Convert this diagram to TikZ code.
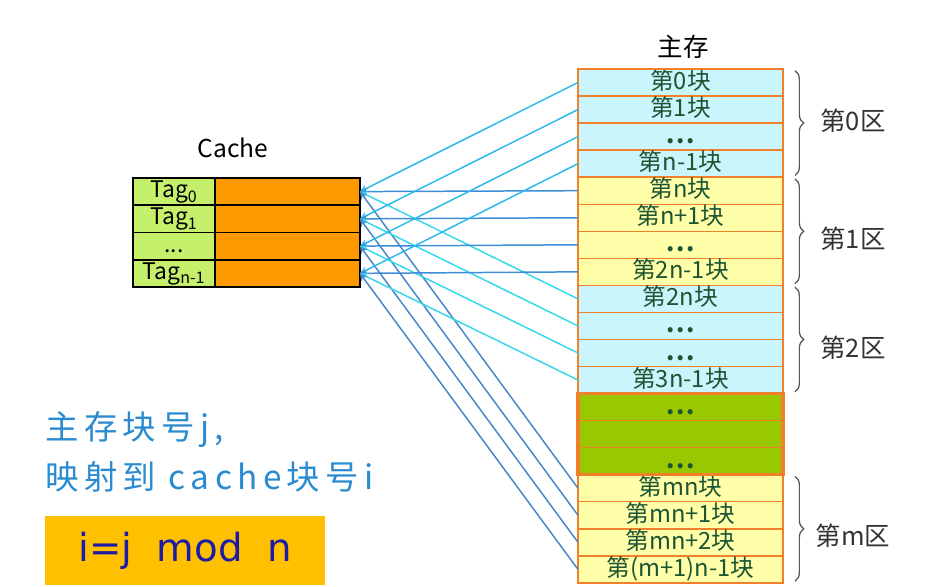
\documentclass[tikz,border=0pt]{standalone}
\usepackage{fontspec}
\setmainfont{Noto Sans CJK SC}
\newfontfamily\notefont[LetterSpace=16]{Noto Sans CJK SC}
\newfontfamily\rulefont{DejaVu Sans}
\usepackage{tikz}
\usetikzlibrary{decorations.pathreplacing}

\definecolor{cyanblk}{HTML}{CBF5FC}
\definecolor{yellowblk}{HTML}{FFFFAA}
\definecolor{greenblk}{HTML}{99C800}
\definecolor{memline}{HTML}{F0802A}
\definecolor{blktext}{HTML}{1D5533}
\definecolor{tagfill}{HTML}{C6F06C}
\definecolor{datafill}{HTML}{FF9900}
\definecolor{zoneA}{HTML}{2EB9EA}
\definecolor{zoneB}{HTML}{3D8ED6}
\definecolor{zoneC}{HTML}{36D8EF}
\definecolor{zoneM}{HTML}{4A87C6}
\definecolor{bracegray}{HTML}{555555}
\definecolor{labelgray}{HTML}{333333}
\definecolor{noteblue}{HTML}{2B8BD1}
\definecolor{rulebox}{HTML}{FFC000}
\definecolor{ruletext}{HTML}{1C1CA6}

\newcommand\blkdots{\textbf{.\kern1pt.\kern1pt.}}
\newcommand\tagdots{...}

\begin{document}
\begin{tikzpicture}[
        x=0.02cm, y=-0.02cm,          % 1 unit = 1 px of the slide
        >=stealth,
        blk/.style={
            draw=memline,
            line width=0.8pt,
            minimum width=4.1cm,
            minimum height=0.541cm,
            text height=9.5pt, text depth=1.5pt,
            inner sep=0pt, outer sep=0pt,
            text=blktext,
            font=\fontsize{13.5}{14}\selectfont
        },
        tagcell/.style={
            draw=black,
            line width=0.9pt,
            fill=tagfill,
            minimum width=1.64cm,
            minimum height=0.545cm,
            text height=9pt, text depth=2pt,
            inner sep=0pt, outer sep=0pt,
            font=\fontsize{13}{14}\selectfont
        },
        datacell/.style={tagcell, fill=datafill, minimum width=2.9cm},
        link/.style={<-, line width=0.85pt},
        zonebrace/.style={decorate, decoration={brace, amplitude=5pt},
            draw=bracegray, line width=0.7pt},
        zonelabel/.style={text=labelgray, font=\fontsize{14.5}{15}\selectfont},
        title/.style={font=\fontsize{14.5}{15}\selectfont},
        note/.style={anchor=west, text=noteblue, inner sep=0pt,
            font=\notefont\fontsize{19}{21}\selectfont}
    ]
        \useasboundingbox (0,0) rectangle (930,587);

        % 主存
        \node[title] (memtitle) at (683,47) {主存};
        \foreach \i/\txt/\col in {
            0/第0块/cyanblk, 1/第1块/cyanblk, 2/\blkdots/cyanblk, 3/第n-1块/cyanblk,
            4/第n块/yellowblk, 5/第n+1块/yellowblk, 6/\blkdots/yellowblk, 7/第2n-1块/yellowblk,
            8/第2n块/cyanblk, 9/\blkdots/cyanblk, 10/\blkdots/cyanblk, 11/第3n-1块/cyanblk,
            12/\blkdots/greenblk, 13/{}/greenblk, 14/\blkdots/greenblk,
            15/第mn块/yellowblk, 16/第mn+1块/yellowblk, 17/第mn+2块/yellowblk, 18/第(m+1)n-1块/yellowblk}
            \node[blk, fill=\col] (b\i) at (680.5,82.5+27.05*\i) {\txt};
        \draw[memline, line width=1.6pt] (b0.north west) rectangle (b18.south east);
        \draw[memline, line width=2pt] (b12.north west) rectangle (b14.south east);

        % 区
        \draw[zonebrace] ([xshift=0.24cm,yshift=-1pt]b0.north east) -- ([xshift=0.24cm,yshift=1pt]b3.south east);
        \draw[zonebrace] ([xshift=0.24cm,yshift=-1pt]b4.north east) -- ([xshift=0.24cm,yshift=1pt]b7.south east);
        \draw[zonebrace] ([xshift=0.24cm,yshift=-1pt]b8.north east) -- ([xshift=0.24cm,yshift=1pt]b11.south east);
        \draw[zonebrace] ([xshift=0.24cm,yshift=-1pt]b15.north east) -- ([xshift=0.24cm,yshift=1pt]b18.south east);
        \node[zonelabel] (zone0) at (853,121) {第0区};
        \node[zonelabel] (zone1) at (853,239) {第1区};
        \node[zonelabel] (zone2) at (853,348) {第2区};
        \node[zonelabel] (zonem) at (853,536) {第m区};

        % Cache
        \node[title, font=\fontsize{14}{15}\selectfont] (cachetitle) at (233,148) {Cache};
        \foreach \k/\txt in {0/Tag\textsubscript{0}, 1/Tag\textsubscript{1}, 2/\tagdots, 3/Tag\textsubscript{n-1}} {
            \node[tagcell] (tag\k) at (174,191.6+27.25*\k) {\txt};
            \node[datacell] (data\k) at (287.5,191.6+27.25*\k) {};
        }
        \draw[black, line width=1.3pt] (tag0.north west) rectangle (data3.south east);

        % 映射
        \foreach \k/\p/\q/\r in {0/4/8/15, 1/5/9/16, 2/6/10/17, 3/7/11/18} {
            \draw[link, zoneA] (data\k.east) -- (b\k.west);
            \draw[link, zoneB] (data\k.east) -- (b\p.west);
            \draw[link, zoneC] (data\k.east) -- (b\q.west);
            \draw[link, zoneM] (data\k.east) -- (b\r.west);
        }

        % 说明
        \node[note] (note1) at (45,430) {主存块号j,};
        \node[note] (note2) at (45,477) {映射到 cache块号i};
        \node[fill=rulebox, minimum width=5.6cm, minimum height=1.38cm, inner sep=0pt,
              text=ruletext, font=\rulefont\fontsize{22}{26}\selectfont] (rule) at (185,550.5)
              {i=j\ \ mod\ \ n};
    \end{tikzpicture}
\end{document}
